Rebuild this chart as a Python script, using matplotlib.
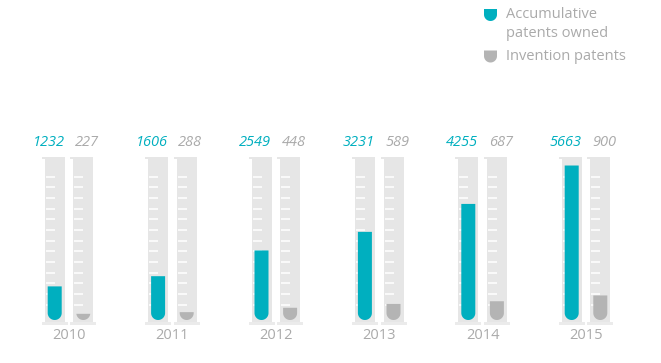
import numpy as np
import matplotlib
matplotlib.use("Agg")
import matplotlib.pyplot as plt
from matplotlib.patches import Rectangle, Polygon

# ---- data ----
years = ["2010", "2011", "2012", "2013", "2014", "2015"]
accumulative = [1232, 1606, 2549, 3231, 4255, 5663]
invention = [227, 288, 448, 589, 687, 900]

TEAL = "#00afbf"
GREY_FILL = "#b4b4b4"
TUBE = "#e6e6e6"
FOOT = "#ebebeb"
LABEL_GREY = "#aaaaaa"
FONT = ["Open Sans", "DejaVu Sans"]

W, H = 661, 363
fig = plt.figure(figsize=(W / 100, H / 100), dpi=100)

# layout scales (pixels)
PX_GROUP = 103.4      # pixels between year groups
X0 = 69.0             # pixel x of first group centre
BASE = 320.0          # pixel y of value 0
PX_VAL = 0.02728      # pixels per unit of value


def dx(px):
    return px / PX_GROUP


def dv(px):
    return px / PX_VAL


def vy(py):
    """value coordinate of a pixel row"""
    return (BASE - py) / PX_VAL


ax = fig.add_axes([0, 0, 1, 1])
ax.set_xlim(-X0 / PX_GROUP, (W - X0) / PX_GROUP)
ax.set_ylim(vy(H), vy(0))
ax.axis("off")


def capsule(cx, h, half_px=7.0):
    """Flat-topped fill with a rounded bottom, from value 0 up to h."""
    w = dx(half_px)
    r = dv(half_px)
    t = np.linspace(np.pi, 2 * np.pi, 60)
    xs = cx + w * np.cos(t)
    ys = r + r * np.sin(t)
    if h >= r:
        pts = [(cx - w, h)] + list(zip(xs, ys)) + [(cx + w, h)]
    else:
        keep = ys <= h
        off = w * np.sqrt(max(0.0, 1 - ((h - r) / r) ** 2))
        pts = [(cx - off, h)] + list(zip(xs[keep], ys[keep])) + [(cx + off, h)]
    return pts


def tube(cx):
    half = 10.0
    top_py, bot_py = 157.0, 322.0
    # body
    ax.add_patch(Rectangle((cx - dx(half), vy(bot_py)), dx(2 * half),
                           dv(bot_py - top_py), fc=TUBE, ec="none", zorder=1))
    # lip at the top left
    ax.add_patch(Rectangle((cx - dx(half + 3), vy(top_py + 2.2)), dx(3.5),
                           dv(2.2), fc=TUBE, ec="none", zorder=1))
    # foot
    ax.add_patch(Rectangle((cx - dx(half + 3), vy(bot_py + 2.8)), dx(2 * half + 6),
                           dv(2.8), fc=FOOT, ec="none", zorder=1))
    # graduation marks
    for k in range(13):
        py = 176.7 + k * 10.67
        ax.plot([cx - dx(half - 1), cx - dx(half - 10)], [vy(py), vy(py)],
                color="white", lw=1.1, solid_capstyle="butt", zorder=2)


OFF = 14.3  # pixel offset of each tube from the group centre
for i, (yr, a, b) in enumerate(zip(years, accumulative, invention)):
    c1 = i - dx(OFF)
    c2 = i + dx(OFF)
    tube(c1)
    tube(c2)
    ax.add_patch(Polygon(capsule(c1, a), closed=True, fc=TEAL, ec="none", zorder=3))
    ax.add_patch(Polygon(capsule(c2, b), closed=True, fc=GREY_FILL, ec="none", zorder=3))
    ax.text(i - dx(4.5), vy(143), f"{a}", color=TEAL, fontsize=10.5, style="italic",
            ha="right", va="center", family=FONT)
    ax.text(i + dx(6.0), vy(143), f"{b}", color=LABEL_GREY, fontsize=10.5, style="italic",
            ha="left", va="center", family=FONT)
    ax.text(i, vy(335.5), yr, color=LABEL_GREY, fontsize=10.5,
            ha="center", va="center", family=FONT)

# ---- legend (pixel coordinates) ----
lg = fig.add_axes([0, 0, 1, 1])
lg.set_xlim(0, W)
lg.set_ylim(H, 0)
lg.axis("off")
lg.patch.set_alpha(0)


def shield(x0, y0, w, h):
    r = w / 2
    t = np.linspace(0, np.pi, 40)
    arc = [(x0 + r + r * np.cos(tt), y0 + h - r + r * np.sin(tt)) for tt in t]
    # arc goes from right to left along the bottom
    return [(x0, y0), (x0 + w, y0)] + arc + [(x0, y0)]


lg.add_patch(Polygon(shield(484, 9, 13, 12), closed=True, fc=TEAL, ec="none"))
lg.add_patch(Polygon(shield(484, 50.5, 13, 12), closed=True, fc=GREY_FILL, ec="none"))
lg.text(506, 15, "Accumulative", color=LABEL_GREY, fontsize=10.5, va="center", family=FONT)
lg.text(506, 33.5, "patents owned", color=LABEL_GREY, fontsize=10.5, va="center", family=FONT)
lg.text(506, 56.5, "Invention patents", color=LABEL_GREY, fontsize=10.5, va="center", family=FONT)

fig.savefig("out.png", dpi=100)
